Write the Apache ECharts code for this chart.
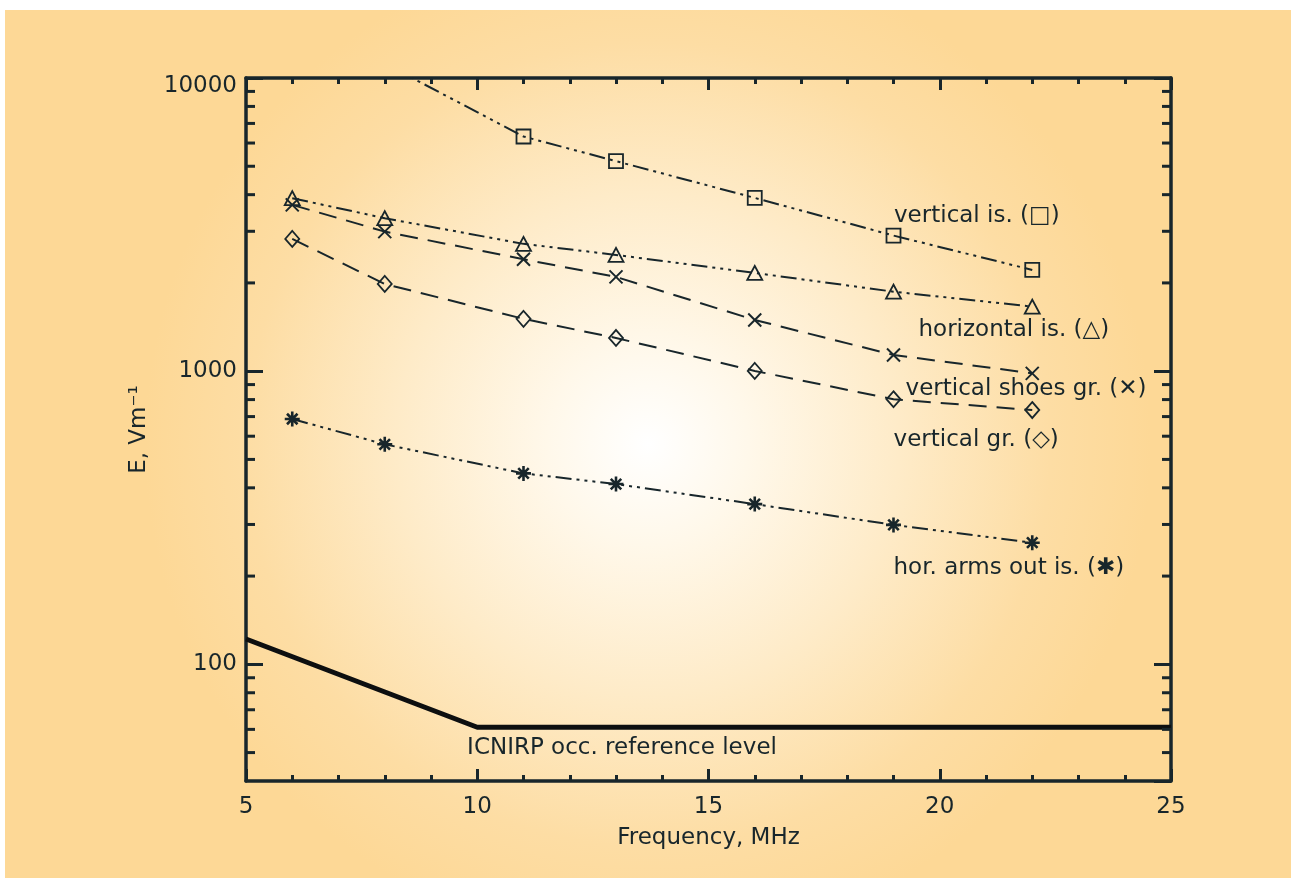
<!DOCTYPE html>
<html><head><meta charset="utf-8">
<script src="https://cdn.jsdelivr.net/npm/echarts@6/dist/echarts.min.js"></script>
<style>html,body{margin:0;padding:0;background:#fff}#c{width:1296px;height:884px}</style>
</head><body><div id="c"></div>
<script>
// ---- data ----
const freqs = [6, 8, 11, 13, 16, 19, 22];
const verticalIsFreqs = [8, 11, 13, 16, 19, 22];
const verticalIs = [11200, 6316, 5204, 3900, 2901, 2215];
const horizontalIs = [3891, 3325, 2718, 2492, 2163, 1867, 1660];
const verticalShoesGr = [3692, 2993, 2409, 2097, 1495, 1136, 983];
const verticalGr = [2826, 1984, 1508, 1298, 1002, 802, 737];
const horArmsOutIs = [687, 563, 448, 412, 352, 299, 260];
const icnirpFreqs = [5, 10, 25];
const icnirpLevel = [122, 61, 61];
const yMinorTicks = [50, 60, 70, 80, 90, 200, 300, 400, 500, 600, 700, 800, 900,
  2000, 3000, 4000, 5000, 6000, 7000, 8000, 9000];
const labelTexts = ['vertical is. ', 'horizontal is. ', 'vertical shoes gr. ', 'vertical gr. ', 'hor. arms out is. ', 'ICNIRP occ. reference level'];
const labelSymbols = ['□', '△', '✕', '◇', '✱', ''];
const labelAnchors = [[19.0, 3386], [19.53, 1382], [19.25, 869], [18.99, 582], [18.99, 213], [9.77, 51.8]];

// ---- style ----
const ink = '#18262b';
const font = 'DejaVu Sans';
const chart = echarts.init(document.getElementById('c'), null, {renderer: 'canvas'});

function mkLine(name, fx, vals, symbol, size, dash, bw) {
  return {
    type: 'line', name: name, data: fx.map((f, i) => [f, vals[i]]),
    symbol: symbol, symbolSize: size, showSymbol: true, clip: true, z: 3,
    lineStyle: {color: ink, width: 2, type: dash},
    itemStyle: {color: 'rgba(0,0,0,0)', borderColor: ink, borderWidth: bw},
    emphasis: {disabled: true}
  };
}
const dashDots = [16, 5, 3, 5, 3, 5, 3, 5];
const longDash = [18, 10];
const xPath = 'path://M0 0L10 10M10 0L0 10';
const starPath = 'path://M5 0L5 10M0 5L10 5M1.5 1.5L8.5 8.5M8.5 1.5L1.5 8.5';

const xAxisBase = {
  type: 'value', min: 5, max: 25, interval: 5,
  axisLine: {onZero: false, lineStyle: {color: ink, width: 3.5}},
  axisTick: {inside: true, length: 12, lineStyle: {color: ink, width: 3}},
  minorTick: {show: true, splitNumber: 5, length: 6, lineStyle: {color: ink, width: 3}},
  splitLine: {show: false}, minorSplitLine: {show: false}
};
const yAxisBase = {
  type: 'log', logBase: 10, min: 40, max: 10000,
  axisLine: {onZero: false, lineStyle: {color: ink, width: 3.5}},
  axisTick: {inside: true, length: 17, lineStyle: {color: ink, width: 3}},
  splitLine: {show: false}
};

const option = {
  animation: false,
  backgroundColor: '#ffffff',
  textStyle: {fontFamily: font},
  graphic: [{
    type: 'rect', z: -10, silent: true,
    shape: {x: 5, y: 10, width: 1286, height: 868},
    style: {fill: new echarts.graphic.RadialGradient(0.5, 0.5, 0.58, [
      {offset: 0, color: '#ffffff'},
      {offset: 0.2, color: '#fff8ea'},
      {offset: 0.5, color: '#feebc8'},
      {offset: 0.8, color: '#fddda4'},
      {offset: 1, color: '#fdd896'}
    ])}
  }],
  grid: {left: 246, top: 78, right: 125, bottom: 103, containLabel: false},
  xAxis: [
    Object.assign({}, xAxisBase, {
      position: 'bottom',
      name: 'Frequency, MHz', nameLocation: 'middle', nameGap: 46,
      nameTextStyle: {fontFamily: font, fontSize: 23, color: ink},
      axisLabel: {margin: 15, fontFamily: font, fontSize: 23, color: ink}
    }),
    Object.assign({}, xAxisBase, {position: 'top', axisLabel: {show: false}})
  ],
  yAxis: [
    Object.assign({}, yAxisBase, {
      position: 'left',
      name: 'E, Vm⁻¹', nameLocation: 'middle', nameGap: 95, nameRotate: 90,
      nameTextStyle: {fontFamily: font, fontSize: 23, color: ink},
      axisLabel: {
        margin: 9, fontFamily: font, fontSize: 23, color: ink, showMinLabel: false,
        formatter: v => (Math.round(v) === 10000 ? '{t|10000}' : String(Math.round(v))),
        rich: {t: {fontFamily: font, fontSize: 23, color: ink, padding: [17, 0, 0, 0]}}
      }
    }),
    Object.assign({}, yAxisBase, {position: 'right', axisLabel: {show: false}})
  ],
  series: [
    mkLine('vertical is.', verticalIsFreqs, verticalIs, 'rect', 14, dashDots, 1.8),
    mkLine('horizontal is.', freqs, horizontalIs, 'triangle', [15, 14], dashDots, 1.8),
    mkLine('vertical shoes gr.', freqs, verticalShoesGr, xPath, 13, longDash, 2),
    mkLine('vertical gr.', freqs, verticalGr, 'diamond', [14, 16], longDash, 1.8),
    mkLine('hor. arms out is.', freqs, horArmsOutIs, starPath, 15, dashDots, 2.6),
    {
      type: 'line', name: 'ICNIRP', data: icnirpFreqs.map((f, i) => [f, icnirpLevel[i]]),
      symbol: 'none', clip: true, z: 3,
      lineStyle: {color: '#0d0f10', width: 5, type: 'solid'}
    },
    {
      type: 'custom', name: 'minorTicks', silent: true, z: 4,
      data: yMinorTicks.map(v => [5, v]),
      renderItem: function (params, api) {
        const y = api.coord([5, api.value(1)])[1];
        const cs = params.coordSys;
        const len = 9;
        return {type: 'group', children: [
          {type: 'line', shape: {x1: cs.x, y1: y, x2: cs.x + len, y2: y}, style: {stroke: ink, lineWidth: 3}},
          {type: 'line', shape: {x1: cs.x + cs.width - len, y1: y, x2: cs.x + cs.width, y2: y}, style: {stroke: ink, lineWidth: 3}}
        ]};
      }
    },
    {
      type: 'scatter', name: 'labels', silent: true, z: 5,
      symbolSize: 1, itemStyle: {color: 'rgba(0,0,0,0)', opacity: 1},
      data: labelAnchors.map((p, i) => ({value: p, idx: i})),
      label: {
        show: true, position: 'right', distance: 0, opacity: 1,
        formatter: function (p) {
          const i = p.dataIndex;
          return labelSymbols[i] ? labelTexts[i] + '(' + '{s|' + labelSymbols[i] + '}' + ')' : labelTexts[i];
        },
        fontFamily: font, fontSize: 23, color: ink,
        rich: {s: {fontFamily: font, fontSize: 23, color: ink}}
      }
    }
  ]
};
chart.setOption(option);
</script>
</body></html>
